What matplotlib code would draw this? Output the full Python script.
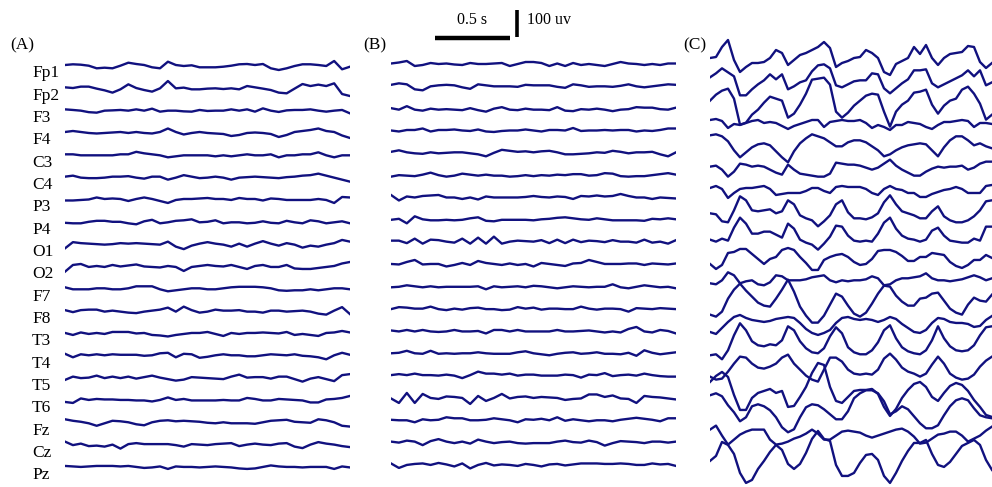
import numpy as np
import matplotlib
matplotlib.use("Agg")
import matplotlib.pyplot as plt
import matplotlib.transforms as mtransforms

# ── Data ──────────────────────────────────────────────────────────────────
# amplitudes in plot units (27 units = 100 uV), one row per channel
CHANNELS = ["Fp1", "Fp2", "F3", "F4", "C3", "C4", "P3", "P4", "O1", "O2",
            "F7", "F8", "T3", "T4", "T5", "T6", "Fz", "Cz", "Pz"]

EEG_A = [
    [0, 0.7, 0.3, -0.7, -3.3, -2.7, -3.3, -0.7, 2.3, 1, 0, -2.3, -3.3, 3.3, 0, -1, -0.3, -2.3, -2.3, -2.3, -1.7, -0.7, 0.7, 1, 0, 1, -3.3, -5, -3.3, -1, 0.7, 0.7, 0, -1, 4, -4.3, -1.7],
    [0, -0.7, 0.7, 0.7, -1.3, -3, -5.3, -2, 3, -0.7, -2.7, -4.3, -1, 6.3, -1, -0.3, -2, -2, -1.3, -1, -1.7, -1, -2, 1.3, 0, -1.3, -2.7, -5.3, -6, -1.3, 3.3, 1.3, 2.7, 1.3, 4, -6.7, -8.7],
    [0.3, -0.3, -1, -2.5, -3, -1, -0.7, -0.3, -1, 0.3, -1, 1, -2, -1, -1, -1.7, -2, -0.3, -1.3, -1, -1, 0.3, -1, 0.3, -2, 1.3, -1, -2.3, -0.7, -0.3, -0.3, 0.3, -1, -2, -1, -0.3, -3.7],
    [0, 1, 0, -1, -1.5, -1, -0.5, 0, -1, 0, -1, -1.5, 0, 3.5, 0, -2.5, -1, 0, -1, -1.5, -2, -4, -3, -1, -0.5, -1, -2, -5, -3, 0, 1, 2, 3.5, 1, 0, -3.5, -6],
    [0, 0, -1, -1, -1, -1, -1, 0, 0, 2.5, 1, 0, -1, -3, -2, -1, -1, -1, -1, -2, -1, -2, -1, 0, -1, -1, 0, -3, -1, -1, 0, 0, 2, -1, -3, -1, -1],
    [0, 1, -1, -1.5, -1.5, -1, 0, 0, 0.5, -1, -2, 0, 0, -3, -1, 1.5, 0, -1.5, -1, 0, -1, -3, -1, -0.5, 0, -0.5, -1, -1.5, -0.5, 0, 1, 1.5, 3, 1, -1, -3, -5],
    [-1.5, -1.5, -1, -0.5, 1.5, 0, 0.5, 0, -2, 0, 1.5, 0, -2, -4, -1, 0, 0, 0.5, 1, 0, 0, -1, 1, 0, 0, -1.5, 0.5, 0, -1, -1, -1, -1, 0, -1, -4, 2, 1.5],
    [-1.5, -2, -2, -0.5, 0.5, 0.5, -0.5, -0.5, -2, -3, 0, 1.5, -2, -1, 0.5, 1, 2, -1, -0.5, 1, -2, -1, -1, -2, -1.5, 0, -1.5, -2, 0.5, -1, -2, 1, 0, -2, -1, 0, -2],
    [-4.7, 1.5, 0.5, 0, -0.5, -1, -0.5, 0.5, 0, 0.5, 0, -0.5, -1, 2, -3, -5.5, -2, 0, 1.5, 0, -1, -3, 0, -3, 0, 2.5, 0, -2, 0.5, -1, -4, -2, -3, -1, 0.5, 3.7, 2],
    [-5.7, 1, 2, -1, 0, -1, 1, -0.5, 0.5, 1.5, -0.5, -1, -1.5, 0, -1, -5, -1, 0, 1, 0, -0.5, 1, -1, -3, 0, 1, -1, -1, 1, -2.5, -3, -3, -2, -1, 0, 2.5, 4],
    [1, -1, -1, -1, 0, 0, -1, -1, 0, 2, 2, 2, -1, -3, -2, -1, 0, 0, -1, -1, 0, 1, 1.5, 1.5, 1.5, 1, 0, -2, -2.5, -2, -2, -1, -2, -1, 0, 0, -1],
    [0.5, -1.5, 0.5, 1, 1, -1, 0, -1, -2, -2.5, -1, 0, 1, 3, -1, 4, 0.5, -2, -1, 1, 0, 0, 0.5, -1, -1, -2, 0, 0, -1, -0.5, 0, -1, -3, -4, 0, 3.5, -3.5],
    [0, -2, 0.5, -1, 0, -1, 1, 1, 1, -0.5, 0, -2, -2.5, -3.5, -2, -1, 0, 0, 1, -1, -3, 0, -1, 0, 0, 0.5, 0, -0.5, 1, -2, -1, -2, -3, 0, 0.5, 2, 0.5],
    [1.5, -2, 1, 0, 1, 0, 1, 0.5, 0.5, 0.5, -0.5, 0, 2, 2.5, -2, 1.5, 1, -2.5, -1.5, 0, 1, 0, 0, -1, -1, 0, 1, 0.5, 0, 1, -0.5, -1, -2, -4, 0, 2.5, 0.5],
    [-2.3, 1, -0.5, 0, 2, -0.5, 1, -0.5, 1, -1, 0.5, 2, 0, -1.5, -3, -2, 0.5, 0, -0.5, -1, -1.5, 1, 3, 0, 0.5, 0.5, -1, 1, 1, -1.5, -4, -1, 0.5, -1.5, -3.5, 2.5, 3.5],
    [-2, -3, 1.5, 0, 1, 0.5, 0.5, 0, 0, -0.5, -0.5, -1.5, 0, 2.5, 0, 1, -0.5, -0.5, -0.5, -0.5, 0, -0.5, -0.5, 2, 1, -0.5, -0.5, 1, 0.5, 0, -0.5, -2.5, -2.5, 0.5, 1, 2, 4],
    [3, 1.5, 0.5, -1, -3.5, -1, 1.5, 1, 0, -2, -3, 0, 1.5, 2, 1, 1.5, 1, 0.5, -0.5, -1, 0, -1, -1, -1, -1.5, 0, 1.5, 2, 2.5, 0.5, 0, -0.5, 3, 2, 0, -3.5, -4.3],
    [3, -0.5, 1, -1.5, -1, -2, 0, -4, 0.5, 1.5, 0.5, 0.5, 0.5, 0.5, -0.5, -2, 0.5, 0, -0.5, 0.5, 1, 1.5, -1.5, 0, 1, 0, -0.5, 1, 1.5, -2, -3.5, 0, 2.5, 1, 0, -1.5, -2.5],
    [1, 0.5, 0, 0.5, 1, 1, 1, 0.5, 1, 0, -1, -0.5, 0.5, -2, 0.5, 0, 0, -0.5, 0, 0.5, 0, -0.5, -1.5, -2, -1.5, 0, 1.5, 0.5, 0, 0, -0.5, 0, 0, 0, -2, 0.5, -0.5],
]

EEG_B = [
    [1.5, 2.5, 4, -1, 0, 2, 1, 1.5, 0.5, 0, 2, 1, 1, 1.5, 2, -1, 1, 3, 3, 2, -1, 1.5, -1, 2, 0, 1, 0, -1, 1, 3, 1.5, 1, 0, 1, 0, 1.5, 1.5],
    [2.5, 4, 3, -2, -3, 1, 2, 2.5, 2, 0, -1.5, 3, 2, 1, 1, 1, 0.5, 2.5, 2, 2, 2, 0.5, -0.5, 3, 2, 0.5, 1, 1, 0.5, 1.5, 3, 1, 0, 1, 2, 3, 2.5],
    [1.5, 0, 3.5, 0, -1, 1, 0, 0.5, 0, -0.5, 1.5, -0.5, -2, 1, 2.5, 0, -0.5, 1, 0, 0, -0.5, 2.5, -1, -1.5, 0.5, 0, 1, 0, -1.5, 0, 0.5, 2.5, 2, 2, 0.5, 0, 2],
    [1.5, 0.5, 2, 2, 3.5, 0.5, 2, 2, 2.5, 1.5, 1, 2.5, 0.5, 0, 1, 1.5, 1.5, 2.5, 1.5, 0.5, 2, 2, 1.5, 4, 1, 1.5, 1.5, 2, 1.5, 2, 2, 0.5, 1.5, 1, 2, 3.5, 3.5],
    [2.5, 4, 2, 1, 0.5, 2, 1, 1.5, 2, 2, 1, 0, -2, 1.5, 4.5, 3.5, 2.5, 3, 2, 3, 3.5, 2, 0, 0, 0.5, 1, 2, 1.5, 3.5, 2.5, 1, 2, 2, 2.5, 0, -2, 2],
    [0, 1.5, 1, 0.5, 2, 4, 1.5, 0, 1, 3, 2, 1, 2, 1, 1, 0, 0.5, 1.5, 0.5, 1.5, 1, 2, 1.5, 2.5, 2.5, 1, 1.5, 3.5, 3, 0.5, 0, 0.5, 0.5, 1.5, 2.5, 3.5, 2],
    [4, -1.5, 2.5, 1.5, 3, 3.5, 4, 1.5, 1.5, 0, 1.5, -0.5, 2.5, 1.5, 1.5, 1.5, 1.5, 2, 3, 2, 1.5, 2.5, 2, 0, 3, 2.5, 3.5, 2.5, 3, 5, 3, 1.5, 1.5, 0, 1.5, 1, 0.5],
    [1.5, 2.5, -2, 5, 2, 1, 1, 1.5, 1, 1.5, 3, 4, 0.5, 0, 1.5, 1.5, 1.5, 1.5, 1, 2, 2.5, 3.5, 4, 3, 2, 1.5, 3, 2, 1, 1, 1, 1, 0.5, 2.5, 2, 3, 2],
    [3, 3, 0.5, 5, 0, 4, 3.5, 2, 1, 5, 0, 6, 0, 7, 0, 2, 3, 2.5, 2, 3.5, 0.5, 4, 0.5, 4, 1.5, 3, 2.5, 1.5, 3.5, 2, 2, 1, 4, 1, 2, 0, 3.5],
    [2, 1.5, 4, 6, 1.5, 2, 2, -0.5, 1, 3, 1, 5, 3, 2, 1, 2.5, 1, 2, -0.5, 3, 2, 1, 0, 2.5, 3, 6, 4, 2, 2, 2, 2.5, 2.5, 1, 2.5, 2, 1.5, 2.5],
    [1, 1.5, 3, 2, 1, 2, 1, 1.5, 1.5, 1.5, 1.5, 2, -1, 2, 1, 1.5, 2, 1, 2.5, 2, 1, 0, 1, 2, 1.5, 1, 1.5, 1.5, 4, 1, 0, 1.5, 3, 2, 1, 1.5, 0],
    [1.5, 3.5, 3, 2, 2, 4, 1.5, 0.5, 2, 1, 2.5, 3, 1.5, 1.5, 0.5, 1, 3.5, 2, 3, 1, 2, 2, 1.5, 1.5, 4, 2, 1, 2, 2, 1.5, -1, 2.5, 2, 1.5, 2.5, 2, 1.5],
    [2.5, 1.5, 3, 1.5, 3, 1.5, 1, 1.5, 3, 1.5, 1.5, 2, -0.5, 3, 3, 1.5, 3, 1.5, 1.5, 1.5, 1.5, 3, 1.5, 1.5, 2, 2.5, 1.5, 0.5, 1.5, 0.5, 4, 6, 1.5, 0.5, 3, 2, -0.5],
    [2, 2.5, 4.5, 2, 1.5, 4.5, 1.5, 2, 1.5, 2, 2, 3, 2, 1.5, 1.5, 1.5, 3, 4, 2, 1, 0, 1.5, 2.5, 3, 1.5, 2, 3, 1.5, 1.5, 1, 2.5, -0.5, 5, 2.5, 1, 2, 3],
    [2.5, 3.5, 2.5, 4, 2.5, 2.5, 2, 3, 2, -0.5, 2.5, 6, 4, 4, 3, 4, 2, 3, 3, 2, 2, 2, 3, 2.5, 0, 3, 2.5, 4.5, 1.5, 2.5, 3, 2, 4, 2.5, 1.5, 1, 1],
    [1.5, -3, 7, -3, 6, 2, 1, 3.5, 3, 2, -4, 4, -1, 2, 6, 1.5, 3, 3.5, 2, 3, 2.5, 2, 0, 1, 1.5, 5.5, 5.5, 3, 4.5, 1.5, 1, -3, 4, 3, 2.5, 1.5, 0.5],
    [2.5, 2, 2, 0, 3, 2, 2.5, 5, 4, 4, 2, 2, 2.5, 4, 3, 2, 0, 3, 2.5, 3.5, 2, 5, 1.5, 3, 2, 1, 2, 2, 1, 2.5, 3.5, 4.5, 3.5, 2.5, 1, 4, 4],
    [3, 2, 4, 3, -0.5, 3.5, 5.5, 3, 1.5, 3, 1, 5, 3, 1.5, 2.5, 3, 1.5, 1, 1.5, 1.5, 1.5, 3, 4, 2.5, 2, 4, 2.5, -1, 1.5, 3.5, 3, 2.5, 1.5, 3, 3, 2, 3],
    [3.5, -1, 2, 3, 3.5, 2, 4, 2.5, 0.5, 3.5, -1.5, 2, 4, 1.5, 2.5, 2, 1, 3, 2, 0.5, 2.5, 3, 1.5, 2.5, 3.5, 3.5, 3.5, 3, 3, 3.5, 3, 2, 2, 3.5, 2.5, 3, 1],
]

EEG_C = [
    [7, 8, 18, 25, 5, -7, -2, 2, 2, 3, 7, 15, 12, 0, 5, 10, 12, 15, 18, 23, 17, -2, 2, 4, 7, 8, 15, 12, 7, -7, -10, 1, 4, 7, 18, 11, 20, 7, 0, 7, 11, 12, 13, 19, 18, 3, -3, 2],
    [10, 14, 19, 15, 11, -8, -8, -2, 3, 7, 13, 8, 13, -2, 1, 5, 7, 16, 22, 23, 19, 2, 0, 3, 6, 7, 7, 14, 13, -1, -6, -1, 4, 8, 17, 17, 18, 4, 0, 3, 6, 9, 12, 17, 11, 17, 2, 5],
    [9, 15, 19, 21, 11, -15, -13, -5, 0, 7, 13, 11, 9, -8, -4, 5, 16, 30, 31, 32, 25, -2, -8, -3, 4, 9, 14, 16, 15, -2, -17, -2, 5, 9, 17, 18, 20, 5, -4, 4, 9, 11, 20, 23, 16, 6, -10, -5],
    [12, 13, 11, 4, 8, 7, 9, 11, 12, 9, 10, 9, 6, 3, 6, 8, 10, 12, 12, 5, 10, 11, 12, 11, 11, 12, 9, 4, 7, 5, 2, 7, 7, 10, 9, 8, 5, 3, 7, 10, 10, 11, 12, 11, 5, 9, 9, 8],
    [19, 20, 18, 13, 4, -3, 2, 7, 10, 11, 9, 3, -3, -8, 3, 11, 16, 20, 18, 16, 12, 8, 8, 12, 14, 14, 12, 8, 4, -2, 0, 4, 7, 9, 10, 11, 10, 4, -2, 7, 14, 18, 18, 14, 9, 11, 8, 6],
    [10, 11, 7, 0, 5, 13, 12, 10, 11, 10, 7, 4, 2, 12, 7, 3, 2, 1, 0, 0, 3, 14, 13, 12, 12, 11, 9, 7, 9, 13, 17, 11, 7, 4, 1, 1, 5, 8, 10, 9, 10, 10, 11, 7, 9, 13, 15, 15],
    [11, 13, 10, 1, 6, 10, 11, 11, 12, 13, 10, 4, 5, 6, 6, 6, 8, 11, 11, 8, 6, 12, 13, 12, 12, 12, 10, 6, 4, 10, 13, 10, 9, 6, 6, 2, 2, 5, 7, 9, 10, 12, 10, 6, 6, 6, 13, 14],
    [8, 7, 0, -1, 11, 25, 21, 11, 10, 11, 12, 8, 10, 21, 17, 6, 3, 1, -5, 0, 6, 17, 21, 9, 3, 3, 2, 4, 8, 19, 26, 17, 10, 8, 6, 3, 3, 10, 15, 5, 1, -1, -1, 1, 5, 11, 20, 21],
    [4, 2, 5, 3, 16, 26, 20, 10, 10, 12, 12, 9, 6, 20, 15, 4, 1, -1, -6, 0, 7, 18, 17, 8, 3, 2, 3, 2, 10, 21, 26, 15, 8, 5, 4, 2, 4, 13, 16, 8, 3, 2, 1, 1, 5, 3, 17, 17],
    [2, -3, 1, 13, 14, 17, 17, 12, 7, 2, 7, 9, 16, 18, 16, 9, 3, -4, -4, 6, 9, 11, 12, 9, 4, 1, 2, 7, 15, 16, 16, 14, 10, 5, 5, 9, 9, 13, 12, 11, 4, 0, -2, 1, 6, 6, 11, 8],
    [5, 4, 8, 16, 13, 5, 7, 8, 4, 3, 6, 13, 12, 8, 8, 8, 9, 11, 12, 13, 8, 6, 8, 7, 8, 8, 9, 12, 10, 3, 4, 8, 10, 10, 11, 12, 15, 10, 8, 8, 7, 8, 9, 11, 13, 11, 8, 10],
    [-4, -6, -1, 12, 21, 27, 20, 14, 8, 5, 4, 12, 21, 31, 19, 4, -5, -12, -12, -5, 6, 17, 14, 5, -3, -6, -2, 7, 17, 25, 24, 15, 9, 5, 5, 12, 13, 17, 18, 10, 2, -2, -4, 6, 13, 10, 9, 16],
    [1, -1, 5, 11, 16, 18, 15, 13, 12, 11, 12, 14, 15, 16, 15, 10, 4, 0, -2, 0, 3, 10, 15, 16, 14, 13, 14, 13, 11, 13, 16, 14, 9, 5, 1, 0, 3, 10, 15, 14, 11, 10, 10, 9, 6, 7, 13, 17],
    [0, 1, -4, 5, 20, 32, 25, 14, 10, 9, 11, 10, 15, 29, 25, 14, 7, 3, 2, 7, 19, 28, 22, 8, 3, 1, 1, 5, 13, 25, 30, 17, 8, 4, 2, 1, 5, 15, 29, 17, 9, 5, 4, 5, 10, 20, 28, 29],
    [1, -2, -1, 6, 14, 21, 20, 14, 10, 9, 11, 14, 20, 23, 14, 8, 2, -2, -4, 8, 20, 20, 16, 8, 4, 3, 4, 3, 8, 19, 24, 18, 10, 6, 4, 1, 4, 13, 21, 14, 4, 0, -2, -1, 3, 11, 17, 21],
    [18, 24, 28, 23, 5, -10, -10, 2, 7, 9, 11, 7, 9, -7, -6, 3, 13, 27, 37, 35, 13, -1, -3, 3, 9, 10, 10, 11, 6, -7, -16, -9, 2, 10, 16, 18, 13, 3, -1, 7, 14, 17, 15, 9, 0, -7, -15, -17],
    [27, 29, 26, 17, 10, 1, 5, 16, 18, 16, 12, 5, -5, -10, -7, 5, 15, 18, 17, 13, 8, 3, 3, 11, 24, 29, 32, 32, 29, 21, 8, 11, 16, 13, 6, -1, -6, -6, -3, 7, 16, 22, 24, 22, 14, 7, 5, 4],
    [15, 19, 9, 0, 5, 10, 13, 15, 15, 15, 5, 0, 1, 3, 6, 8, 11, 15, 11, 5, 5, 9, 13, 14, 13, 12, 9, 7, 9, 11, 13, 15, 16, 13, 8, 1, 2, 6, 10, 11, 13, 13, 9, 3, 6, 9, 14, 18],
    [6, 11, 25, 22, 13, -6, -16, -13, -2, 6, 15, 22, 17, 3, -2, 3, 14, 28, 36, 28, 26, 2, -9, -9, -6, 4, 12, 13, 7, -9, -16, -6, 6, 16, 24, 24, 27, 13, 2, 0, 5, 13, 21, 24, 27, 22, 7, -3],
]

DUR_AB = 1.9      # s shown in panels A and B
DUR_C = 1.88      # s shown in panel C (cut at the right edge)
ROW_GAP = 22.33   # vertical spacing between channels (plot units)
UV100 = 27        # plot units for 100 uV

t_ab = np.linspace(0, DUR_AB, len(EEG_A[0]))
t_c = np.linspace(0, DUR_C, len(EEG_C[0]))

TRACE = "#11117f"
LW = 1.7
plt.rcParams["font.family"] = ["Liberation Serif", "DejaVu Serif"]

# ── Figure ────────────────────────────────────────────────────────────────
W, H = 992, 487
fig = plt.figure(figsize=(W / 100, H / 100), dpi=100, facecolor="white")

TOP = 65  # pixel row of the first channel


def make_ax(left_px, width_px, dur):
    ax = fig.add_axes([left_px / W, 0, width_px / W, 1])
    ax.set_xlim(0, dur)
    ax.set_ylim(TOP - H, TOP)
    ax.axis("off")
    return ax


ax_a = make_ax(65, 285, DUR_AB)
ax_b = make_ax(391, 285, DUR_AB)
ax_c = make_ax(710, 282, DUR_C)

for i in range(len(CHANNELS)):
    base = -ROW_GAP * i
    ax_a.plot(t_ab, base + np.array(EEG_A[i]), color=TRACE, lw=LW)
    ax_b.plot(t_ab, base + np.array(EEG_B[i]), color=TRACE, lw=LW)
    ax_c.plot(t_c, base + np.array(EEG_C[i]), color=TRACE, lw=LW)

# channel names
trans = mtransforms.blended_transform_factory(fig.transFigure, ax_a.transData)
for i, name in enumerate(CHANNELS):
    ax_a.text(32 / W, -ROW_GAP * i - 12.5, name, transform=trans,
              ha="left", va="baseline", fontsize=12.5, color="black")

# panel letters
for x_px, lab in [(10, "(A)"), (363, "(B)"), (683, "(C)")]:
    fig.text(x_px / W, 1 - 45 / H, lab, ha="left", va="center",
             fontsize=12.5, color="black")

# scale bars (drawn in panel B units)
x0 = (435 - 391) / 150
ax_b.plot([x0, x0 + 0.5], [TOP - 38, TOP - 38], color="black", lw=3.2,
          solid_capstyle="butt", clip_on=False)
ax_b.text(x0 + 0.25, TOP - 20, "0.5 s", ha="center", va="center",
          fontsize=11.5)
xv = (517 - 391) / 150
ax_b.plot([xv, xv], [TOP - 37, TOP - 37 + UV100], color="black", lw=2.6,
          solid_capstyle="butt", clip_on=False)
ax_b.text(xv + 0.065, TOP - 20, "100 uv", ha="left", va="center",
          fontsize=11.5)

fig.savefig("out.png", dpi=100, facecolor="white")
